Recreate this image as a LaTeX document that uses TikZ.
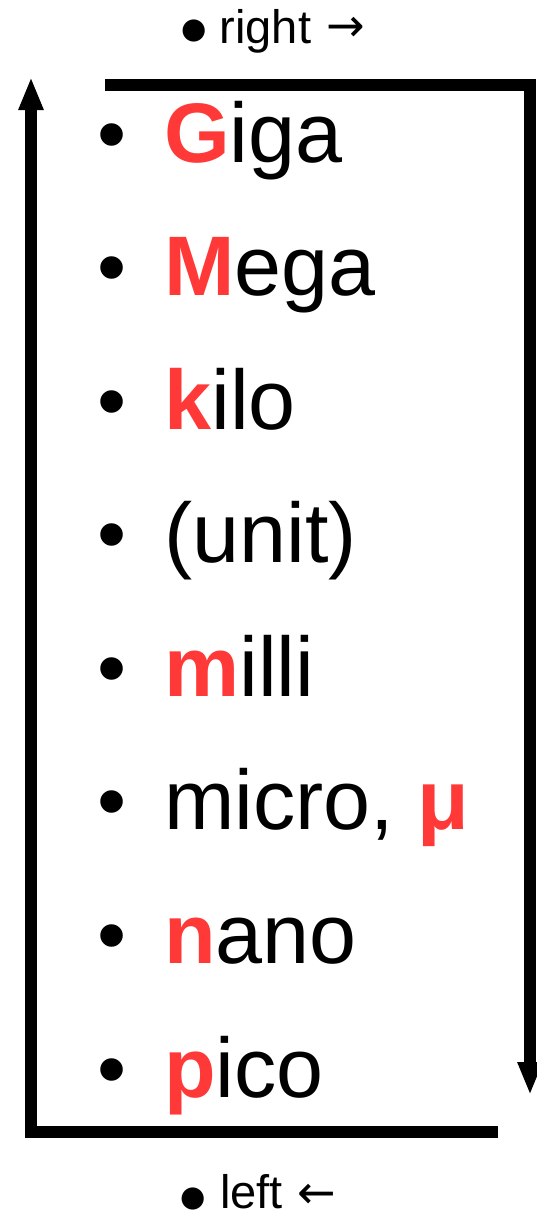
\documentclass[tikz,border=0pt]{standalone}
\usepackage{fontspec}
\setmainfont{Liberation Sans}
\newfontfamily\arrowfont{DejaVu Sans}
\usetikzlibrary{arrows.meta}
\definecolor{prefred}{RGB}{255,56,56}
\tikzset{
  item/.style={anchor=base west, inner sep=0pt, font=\fontsize{84.5}{90}\selectfont},
  bul/.style={anchor=base west, inner sep=0pt, font=\fontsize{83}{90}\selectfont},
  small/.style={anchor=base west, inner sep=0pt, font=\fontsize{47}{50}\selectfont},
  smallbul/.style={anchor=base, inner sep=0pt, font=\arrowfont\fontsize{29}{32}\selectfont},
  smallarr/.style={anchor=base west, inner sep=0pt, font=\arrowfont\fontsize{46}{50}\selectfont},
  frame/.style={line width=12pt, line join=miter, -{Triangle[length=33pt,width=23pt]}}
}
\newcommand{\pf}[1]{\textcolor{prefred}{\textbf{#1}}}
\begin{document}
\begin{tikzpicture}[x=1pt,y=-1pt]
\useasboundingbox (0,0) rectangle (537,1218);
% top label
\node[smallbul] (topb) at (194,38) {●};
\node[small] (topw) at (219.5,43) {right};
\node[smallarr] (topa) at (326,41.5) {→};
% bottom label
\node[smallbul] (botb) at (193,1206) {●};
\node[small] (botw) at (220,1208) {left};
\node[smallarr] (bota) at (297,1208.5) {←};
\foreach \name/\txt [count=\i from 0] in {g/{\pf{G}iga}, m/{\pf{M}ega}, k/{\pf{k}ilo}, u/{(unit)}, mi/{\pf{m}illi}, mu/{micro, \pf{μ}}, n/{\pf{n}ano}, p/{\pf{p}ico}} {
  \node[bul] (b\name) at (97,162+133.57*\i) {•};
  \node[item] (t\name) at (164,162+133.57*\i) {\txt};
}
\coordinate (tl) at (105,85);
\coordinate (tr) at (530,85);
\coordinate (rb) at (530,1095);
\coordinate (br) at (498,1132);
\coordinate (bl) at (31,1132);
\coordinate (lt) at (31,77);
\draw[frame] (tl) -- (tr) -- (rb);
\draw[frame] (br) -- (bl) -- (lt);
\end{tikzpicture}
\end{document}
